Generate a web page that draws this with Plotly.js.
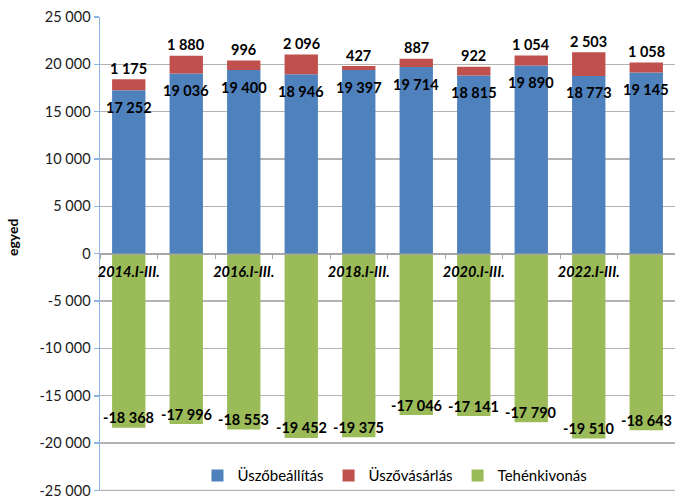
<!DOCTYPE html>
<html>
<head>
<meta charset="utf-8">
<script src="https://cdn.plot.ly/plotly-3.0.1.min.js"></script>
<style>html,body{margin:0;padding:0;background:#fff;overflow:hidden}</style>
</head>
<body>
<div id="chart" style="width:675px;height:498px"></div>
<script>
const categories = ['2014.I-III.', '2015.I-III.', '2016.I-III.', '2017.I-III.', '2018.I-III.',
                    '2019.I-III.', '2020.I-III.', '2021.I-III.', '2022.I-III.', '2023.I-III.'];
const xTickText = ['2014.I-III.', '', '2016.I-III.', '', '2018.I-III.', '', '2020.I-III.', '', '2022.I-III.', ''];
const uszobeallitas = [17252, 19036, 19400, 18946, 19397, 19714, 18815, 19890, 18773, 19145];
const uszovasarlas = [1175, 1880, 996, 2096, 427, 887, 922, 1054, 2503, 1058];
const tehenkivonas = [-18368, -17996, -18553, -19452, -19375, -17046, -17141, -17790, -19510, -18643];
const yTickVals = [-25000, -20000, -15000, -10000, -5000, 0, 5000, 10000, 15000, 20000, 25000];
const seriesNames = ['Üszőbeállítás', 'Üszővásárlás', 'Tehénkivonás'];
const seriesColors = ['#4f81bd', '#c0504d', '#9bbb59'];

function fmt(n) {
  const s = Math.abs(n).toString().replace(/\B(?=(\d{3})+(?!\d))/g, ' ');
  return (n < 0 ? '-' : '') + s;
}

const FONT = 'Lato, "Open Sans", sans-serif';
const yRange = [-25060, 25000];
const zeroPos = (0 - yRange[0]) / (yRange[1] - yRange[0]);

const traces = [uszobeallitas, uszovasarlas, tehenkivonas].map((vals, i) => ({
  type: 'bar',
  name: seriesNames[i],
  x: categories,
  y: vals,
  marker: {color: seriesColors[i], line: {width: 0}},
  hoverinfo: 'none'
}));

const annotations = [];
const labelFont = {family: FONT, size: 14.5, color: '#000', weight: 'bold'};
categories.forEach((c, i) => {
  annotations.push({x: c, y: uszobeallitas[i], xref: 'x', yref: 'y', text: fmt(uszobeallitas[i]),
    showarrow: false, yanchor: 'middle', yshift: -17, font: labelFont});
  annotations.push({x: c, y: uszobeallitas[i] + uszovasarlas[i], xref: 'x', yref: 'y', text: fmt(uszovasarlas[i]),
    showarrow: false, yanchor: 'middle', yshift: 11, font: labelFont});
  annotations.push({x: c, y: tehenkivonas[i], xref: 'x', yref: 'y', text: fmt(tehenkivonas[i]),
    showarrow: false, yanchor: 'middle', yshift: 10, font: labelFont});
});
annotations.push({xref: 'paper', yref: 'paper', x: -0.152, y: 0.535, text: 'egyed', textangle: -90,
  showarrow: false, xanchor: 'center', yanchor: 'middle',
  font: {family: FONT, size: 14, color: '#000', weight: 'bold'}});

const layout = {
  width: 675, height: 498,
  margin: {l: 100, r: 0, t: 17, b: 7},
  paper_bgcolor: '#fff', plot_bgcolor: '#fff',
  barmode: 'relative',
  bargap: 0.42,
  showlegend: true,
  legend: {orientation: 'h', x: 0.513, xanchor: 'center', y: 0.032, yanchor: 'middle',
    bgcolor: 'rgba(255,255,255,0)', font: {family: FONT, size: 15, color: '#000'},
    traceorder: 'normal'},
  xaxis: {
    type: 'category',
    anchor: 'free', position: zeroPos,
    tickmode: 'array', tickvals: categories, ticktext: xTickText, tickangle: 0,
    tickson: 'boundaries', ticks: 'outside', ticklen: 4, tickcolor: '#a6a6a6', tickwidth: 1,
    ticklabelstandoff: 4,
    showline: true, linecolor: '#a6a6a6', linewidth: 1.5,
    showgrid: false, zeroline: false,
    tickfont: {family: FONT, size: 14.5, color: '#000', weight: 'bold', style: 'italic'},
    fixedrange: true
  },
  yaxis: {
    range: yRange,
    tickmode: 'array', tickvals: yTickVals, ticktext: yTickVals.map(fmt),
    ticks: 'outside', ticklen: 5, tickcolor: '#8eb4e3', tickwidth: 1.5,
    showline: true, linecolor: '#8eb4e3', linewidth: 1.5,
    showgrid: true, gridcolor: '#b3b3b3', gridwidth: 1.3,
    zeroline: true, zerolinecolor: '#a6a6a6', zerolinewidth: 1.5,
    tickfont: {family: FONT, size: 14.5, color: '#1a1a1a'},
    ticklabeloverflow: 'allow',
    fixedrange: true
  },
  shapes: [{type: 'line', xref: 'paper', yref: 'y', x0: 0, x1: 1, y0: yTickVals[0], y1: yTickVals[0],
    line: {color: '#b3b3b3', width: 1.3}, layer: 'below'}],
  annotations: annotations
};

Plotly.newPlot('chart', traces, layout, {displayModeBar: false, staticPlot: true});
</script>
</body>
</html>
